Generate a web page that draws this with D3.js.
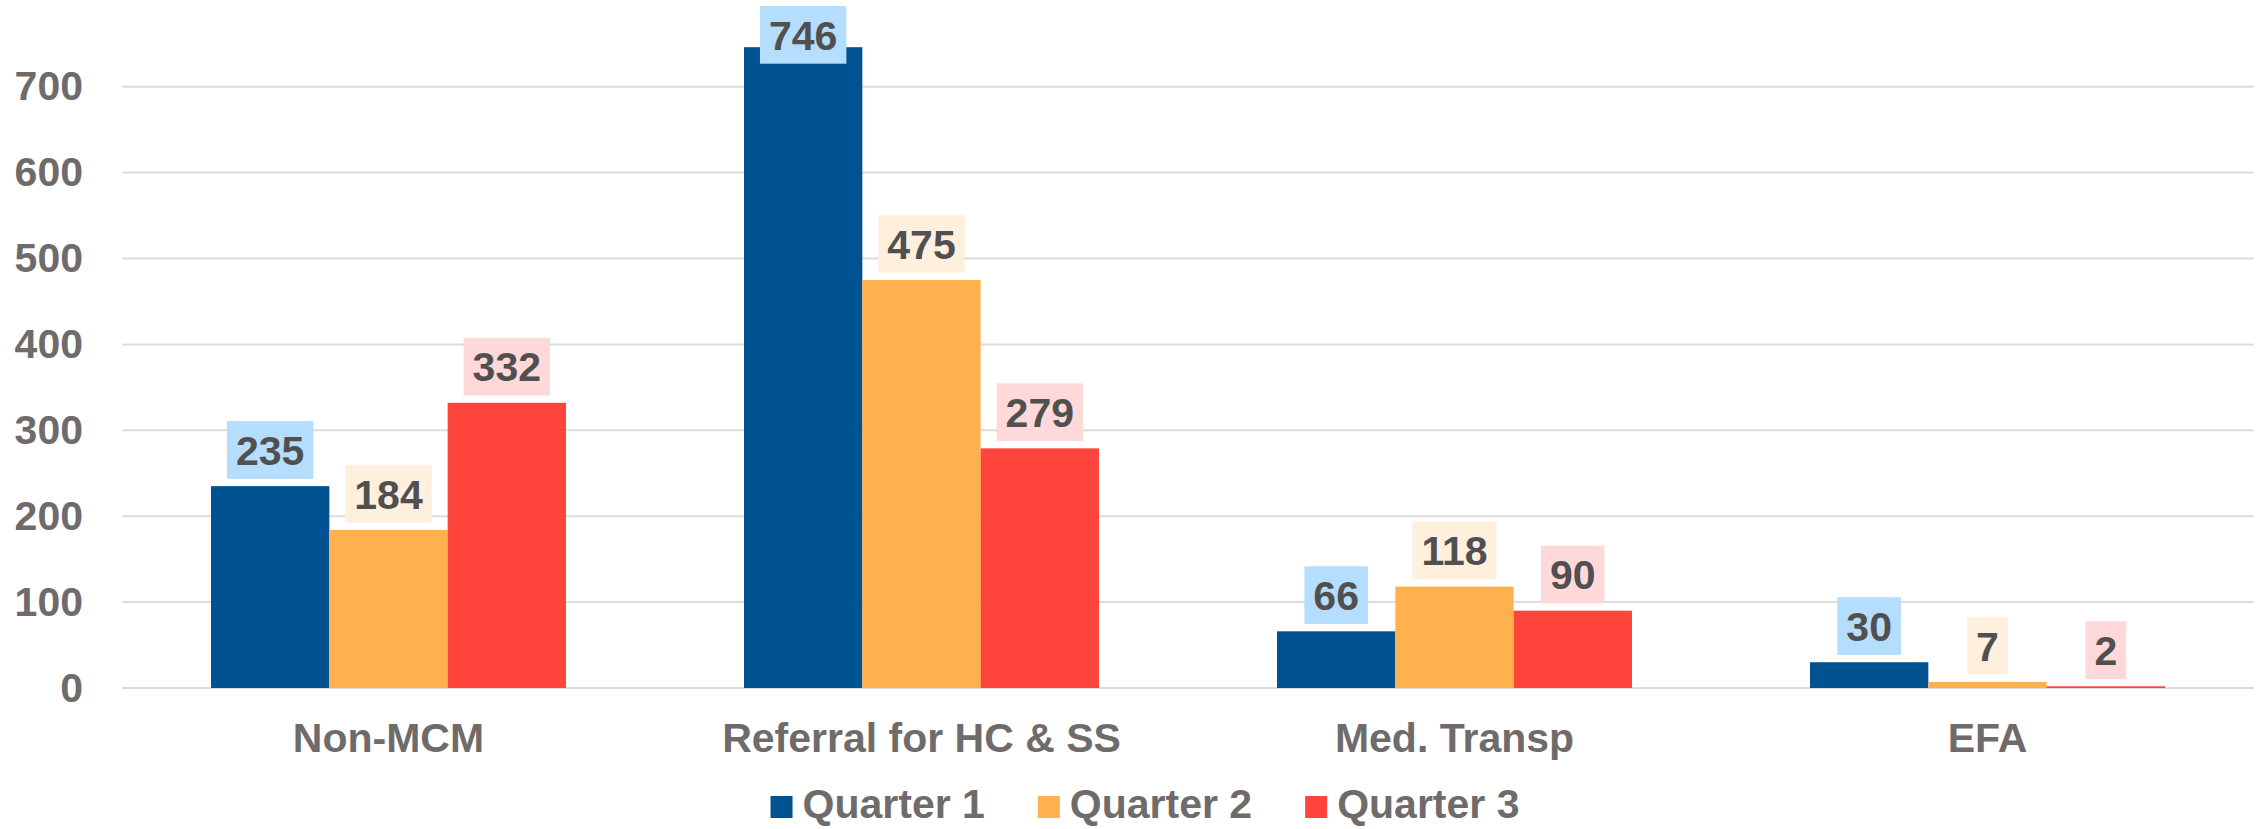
<!DOCTYPE html>
<html>
<head>
<meta charset="utf-8">
<script src="https://cdn.jsdelivr.net/npm/d3@7"></script>
<style>
  body { margin: 0; background: #fff; }
  svg { display: block; font-family: "Liberation Sans", Arial, sans-serif; font-weight: bold; }
</style>
</head>
<body>
<div class="d3-elem"><svg></svg></div>
<script>
const categories = ["Non-MCM", "Referral for HC & SS", "Med. Transp", "EFA"];
const seriesNames = ["Quarter 1", "Quarter 2", "Quarter 3"];
const quarter1 = [235, 746, 66, 30];
const quarter2 = [184, 475, 118, 7];
const quarter3 = [332, 279, 90, 2];
const yTicks = [0, 100, 200, 300, 400, 500, 600, 700];

const barColors = ["#015291", "#ffb14e", "#ff453b"];
const boxColors = ["#b5ddfd", "#ffefdc", "#ffd9d9"];

const w = 2267, h = 829;
const series = [quarter1, quarter2, quarter3];
const fontSize = 41;

const svg = d3.select("svg").attr("width", w).attr("height", h);

const x = d3.scaleBand()
  .domain(categories)
  .range([122, 2254])
  .paddingInner(0.334)
  .paddingOuter(0.167);

const xInner = d3.scaleBand()
  .domain(d3.range(seriesNames.length))
  .range([0, x.bandwidth()]);

const y = d3.scaleLinear()
  .domain([0, 700])
  .range([688, 86.7]);

// gridlines
svg.append("g")
  .selectAll("line")
  .data(yTicks)
  .enter()
  .append("line")
  .attr("x1", 122)
  .attr("x2", 2254)
  .attr("y1", d => y(d))
  .attr("y2", d => y(d))
  .attr("stroke", "#dcdcdc")
  .attr("stroke-width", 2);

// y axis labels
const yAxis = d3.axisLeft(y).tickValues(yTicks).tickSize(0).tickPadding(0);
const yg = svg.append("g").attr("transform", "translate(83,0)").call(yAxis);
yg.select(".domain").remove();
yg.selectAll("text")
  .attr("fill", "#6f6b6b")
  .style("font-size", fontSize + "px")
  .style("font-family", "'Liberation Sans', Arial, sans-serif")
  .style("font-weight", "bold");

// bars
const groups = svg.append("g")
  .selectAll("g")
  .data(categories)
  .enter()
  .append("g")
  .attr("transform", d => "translate(" + x(d) + ",0)");

groups.selectAll("rect")
  .data((d, ci) => series.map((s, si) => ({ si: si, value: s[ci] })))
  .enter()
  .append("rect")
  .attr("x", d => xInner(d.si))
  .attr("width", xInner.bandwidth())
  .attr("y", d => y(d.value))
  .attr("height", d => y(0) - y(d.value))
  .attr("fill", d => barColors[d.si]);

// data labels with boxes
const labels = groups.selectAll("g.lbl")
  .data((d, ci) => series.map((s, si) => ({ si: si, value: s[ci] })))
  .enter()
  .append("g")
  .attr("class", "lbl");

labels.each(function(d) {
  const g = d3.select(this);
  const cx = xInner(d.si) + xInner.bandwidth() / 2;
  const txt = g.append("text")
    .attr("text-anchor", "middle")
    .attr("fill", "#505050")
    .style("font-size", fontSize + "px")
    .text(d.value);
  const tw = txt.node().getComputedTextLength();
  const bh = 57.7, bw = tw + 18;
  let top = y(d.value) - 7.3 - bh;
  if (top < 6) top = 6;   // keep inside the plot like excel does
  g.insert("rect", "text")
    .attr("x", cx - bw / 2)
    .attr("y", top)
    .attr("width", bw)
    .attr("height", bh)
    .attr("fill", boxColors[d.si]);
  txt.attr("x", cx).attr("y", top + bh / 2 + fontSize * 0.36);
});

// category labels
svg.append("g")
  .selectAll("text")
  .data(categories)
  .enter()
  .append("text")
  .attr("x", d => x(d) + x.bandwidth() / 2)
  .attr("y", 752)
  .attr("text-anchor", "middle")
  .attr("fill", "#6f6b6b")
  .style("font-size", fontSize + "px")
  .text(d => d);

// legend
const legend = svg.append("g");
const items = legend.selectAll("g")
  .data(seriesNames)
  .enter()
  .append("g");
items.append("rect")
  .attr("width", 22)
  .attr("height", 22)
  .attr("y", 796)
  .attr("fill", (d, i) => barColors[i]);
items.append("text")
  .attr("x", 32)
  .attr("y", 818)
  .attr("fill", "#6f6b6b")
  .style("font-size", fontSize + "px")
  .text(d => d);

let pos = 0;
const offsets = [];
items.each(function() {
  offsets.push(pos);
  pos += this.getBBox().width + 53;
});
const total = pos - 53;
const start = 1145 - total / 2;
items.attr("transform", (d, i) => "translate(" + (start + offsets[i]) + ",0)");
</script>
</body>
</html>
